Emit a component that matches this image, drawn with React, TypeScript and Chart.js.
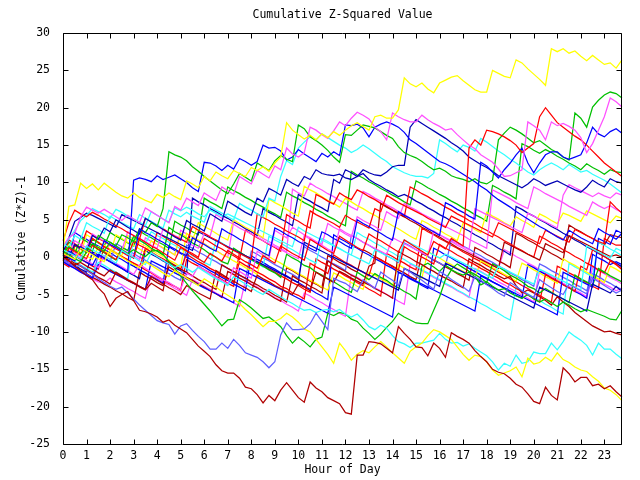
import React, { useEffect, useRef } from 'react';
import { Chart, registerables } from 'chart.js';

Chart.register(...registerables);

// x categories: quarter-hour steps 0 .. 23.75
const quarterHours = Array.from({ length: 96 }, (_, i) => i / 4);

const yellowTop = [
  1.0, 6.8, 7.0, 9.9, 9.2, 9.8, 9.0, 9.9,
  9.3, 8.7, 8.2, 7.9, 8.6, 8.0, 7.6, 7.3,
  8.4, 8.0, 8.6, 8.1, 7.7, 10.2, 9.8, 9.3,
  10.8, 10.2, 11.4, 10.9, 10.5, 11.6, 11.2, 10.8,
  12.0, 11.6, 12.1, 11.5, 12.6, 13.4, 18.0, 17.0,
  16.4, 15.8, 16.3, 15.7, 16.5, 16.0, 16.8, 16.3,
  17.0, 17.6, 18.0, 17.5, 17.0, 18.8, 19.0, 18.6,
  18.6, 19.7, 24.0, 23.2, 22.8, 23.3, 22.5, 22.0,
  23.3, 23.7, 24.1, 24.3, 23.6, 23.0, 22.4, 22.1,
  22.1, 25.0, 24.6, 24.2, 24.0, 26.4, 26.0, 25.2,
  24.5, 23.8, 23.0, 27.9, 27.5, 27.9, 27.3, 27.6,
  26.9, 26.3, 27.0, 26.4, 25.8, 26.0, 25.3, 26.4,
];
const darkRedLow = [
  0.3, -0.5, -1.2, -1.8, -2.5, -3.0, -4.1, -4.9,
  -6.6, -5.5, -5.0, -4.6, -5.8, -7.1, -7.3, -7.6,
  -8.0, -8.7, -8.4, -9.1, -9.6, -10.1, -11.0, -11.9,
  -12.6, -13.3, -14.4, -15.2, -15.5, -15.5, -16.2, -17.4,
  -17.6, -18.4, -19.5, -18.5, -19.2, -17.8, -16.8, -17.8,
  -18.8, -19.4, -16.7, -17.5, -18.0, -18.8, -19.2, -19.6,
  -20.8, -21.0, -13.1, -13.1, -11.3, -11.4, -11.6, -12.2,
  -12.8, -9.3, -10.2, -11.0, -12.0, -12.1, -13.2, -11.5,
  -12.2, -13.4, -10.1, -10.6, -11.0, -11.5, -12.5, -13.3,
  -14.0, -15.0, -15.4, -15.6, -16.2, -17.0, -17.4, -18.3,
  -19.3, -19.6, -17.4, -18.5, -19.1, -14.8, -15.6, -16.7,
  -16.1, -16.1, -17.2, -17.0, -17.6, -17.2, -18.0, -18.7,
];
const slateLow = [
  -0.3, -0.8, -1.3, -1.1, -1.8, -2.3, -2.9, -3.4,
  -3.9, -4.3, -4.0, -4.8, -5.6, -6.4, -7.1, -7.8,
  -8.5, -8.8, -9.0, -10.3, -9.2, -8.9, -9.8, -10.6,
  -11.3, -12.3, -12.3, -11.5, -12.2, -11.0, -11.8, -12.8,
  -13.1, -13.4, -14.0, -14.8, -14.0, -10.4, -8.8, -9.7,
  -9.7, -9.6, -8.9, -7.5, -8.6, -9.7, -2.8, -3.2,
  -3.5, -4.1, -4.6, -3.0, -3.6, -4.2, -2.0, -2.6,
  -3.1, -3.8, -1.5, -2.0, -2.6, -3.1, -3.7, -4.3,
  -1.9, -2.4, -3.0, -3.5, -4.0, -4.6, -2.6, -3.1,
  -3.7, -4.2, -4.8, -5.2, -3.4, -3.9, -4.5, -5.0,
  -5.4, -3.0, -3.6, -4.1, -4.6, -5.0, -3.6, -4.1,
  -4.5, -4.9, -2.8, -3.3, -3.8, -4.3, -4.8, -4.4,
];
const yellowLow = [
  0.5, 0.1, -0.3, 1.2, 0.8, 0.3, -0.2, -0.6,
  1.0, 0.5, 0.0, -0.5, -1.0, -1.4, -0.6, -1.1,
  -1.6, -2.1, -2.6, -1.8, -2.3, -2.8, -3.3, -3.8,
  -2.9, -3.4, -4.0, -4.6, -5.1, -5.6, -6.2, -7.0,
  -7.7, -8.5, -9.3, -8.6, -8.6, -8.2, -7.5, -8.0,
  -8.7, -9.6, -10.0, -11.0, -12.0, -13.0, -14.2, -11.5,
  -12.5, -13.8, -13.0, -12.5, -12.8, -12.0, -11.3, -12.0,
  -12.8, -13.5, -14.2, -12.6, -12.0, -11.5, -10.5, -9.7,
  -10.0, -10.5, -11.0, -12.0, -13.0, -13.8, -13.1, -13.3,
  -14.0, -15.1, -15.8, -15.5, -15.2, -14.7, -16.0, -13.5,
  -14.3, -14.1, -13.4, -13.9, -12.8, -13.7, -14.1, -14.7,
  -15.1, -15.3, -16.0, -16.6, -17.5, -17.8, -18.4, -19.2,
];
const cyanLow = [
  1.0, 0.6, 0.2, -0.2, 1.5, 1.0, 0.6, 0.2,
  -0.3, -0.8, 0.9, 0.4, 0.0, -0.5, -1.0, 0.6,
  0.1, -0.4, -0.9, -1.4, -1.0, -1.5, -2.0, -1.4,
  -1.9, -2.4, -2.9, -3.3, -3.8, -2.6, -3.1, -3.6,
  -4.1, -4.6, -5.0, -4.3, -4.8, -5.3, -5.8, -6.2,
  -6.7, -7.1, -7.0, -7.4, -7.1, -7.0, -7.3, -7.0,
  -7.6, -8.0, -7.6, -8.4, -9.3, -9.7, -9.1, -9.5,
  -10.5, -11.3, -11.6, -12.1, -11.5, -11.5, -11.3, -11.1,
  -10.2, -11.0, -11.5, -11.4, -11.9, -11.6, -12.2, -12.7,
  -13.2, -14.0, -15.1, -14.2, -14.6, -13.1, -14.2, -14.0,
  -12.7, -12.9, -12.9, -11.5, -12.4, -11.3, -10.0, -10.6,
  -11.1, -11.8, -13.1, -11.5, -12.3, -12.3, -13.0, -13.6,
];
const greenLow = [
  0.8, 0.3, -0.2, -0.6, 0.7, 1.8, 1.3, 0.8,
  2.0, 1.5, 1.0, 0.5, 1.0, 0.5, 0.1, 0.8,
  0.9, 0.4, -0.6, -1.5, -2.5, -3.5, -4.5, -5.4,
  -6.3, -7.2, -8.2, -9.2, -8.4, -8.3, -5.7, -6.2,
  -6.8, -7.5, -8.2, -8.0, -8.6, -9.3, -10.5, -11.5,
  -10.7, -11.3, -12.0, -11.0, -10.7, -7.5, -7.8, -7.4,
  -7.6, -8.3, -8.6, -9.5, -10.2, -11.0, -10.3, -9.4,
  -8.6, -7.5, -8.0, -8.4, -8.8, -8.9, -8.9, -7.1,
  -5.3, -3.0, -1.7, -2.1, -2.4, -2.0, -2.6, -3.7,
  -3.3, -3.9, -4.4, -4.2, -4.8, -5.2, -5.5, -5.0,
  -5.6, -6.0, -5.6, -6.1, -6.6, -6.0, -6.4, -6.9,
  -7.3, -7.0, -7.3, -7.6, -7.9, -8.3, -8.4, -7.1,
];
const magentaHigh = [
  1.5, 2.6, 3.2, 5.4, 6.7, 6.3, 5.9, 6.4,
  5.9, 5.4, 4.9, 5.6, 5.1, 4.6, 6.6, 6.1,
  5.6, 5.1, 4.6, 6.8, 6.3, 7.9, 7.4, 6.9,
  8.6, 8.1, 7.6, 9.4, 8.9, 8.4, 10.8, 10.3,
  9.8, 11.6, 11.1, 10.6, 12.2, 11.7, 14.6, 13.8,
  13.4, 14.0, 17.4, 17.0, 16.4, 15.9, 16.9, 18.1,
  17.6, 18.6, 19.4, 19.0, 18.5, 17.4, 16.8, 15.7,
  19.3, 18.8, 18.4, 18.1, 18.1, 19.0, 18.4, 17.9,
  17.5, 17.0, 17.2, 16.4, 15.7, 15.0, 14.5, 13.7,
  13.2, 12.7, 11.8, 10.8, 10.9, 11.3, 11.7, 18.1,
  17.6, 17.0, 15.7, 18.1, 17.6, 17.9, 17.5, 17.0,
  16.0, 14.0, 15.2, 17.0, 18.8, 21.3, 20.8, 20.1,
];
const redPeak = [
  -0.5, 1.2, 0.8, 0.3, -0.2, 1.6, 1.1, 0.7,
  0.2, -0.3, 0.9, 0.4, -0.1, 2.5, 2.0, 1.5,
  1.1, 0.6, 0.1, -0.4, 1.3, 0.8, 0.3, -0.2,
  -0.7, 0.5, 0.0, -0.5, 0.9, 0.4, -0.1, -0.6,
  -1.0, -1.5, 0.2, -0.3, -0.8, 1.5, 1.0, 0.5,
  0.1, -0.4, 2.4, 1.9, 1.4, 0.9, 0.5, 2.8,
  2.3, 1.8, 1.3, 0.9, 3.1, 2.6, 2.2, 1.7,
  1.2, 0.7, 2.3, 1.8, 1.3, 0.8, 0.3, 2.1,
  1.6, 1.1, 2.5, 2.0, 1.5, 14.6, 15.7, 15.0,
  17.0, 16.8, 16.5, 16.1, 15.6, 15.0, 14.0, 14.6,
  15.2, 18.8, 20.0, 19.0, 18.0, 17.4, 16.8, 16.2,
  15.7, 15.0, 14.2, 13.4, 12.6, 12.0, 11.4, 10.8,
];
const blueHigh = [
  0.4, -0.1, -0.5, 1.4, 0.9, 0.5, 0.0, 2.2,
  1.7, 1.3, 0.8, 0.4, -0.1, 3.8, 3.3, 2.9,
  2.4, 2.0, 1.5, 1.1, 0.6, 0.2, 2.6, 2.1,
  1.7, 1.2, 0.8, 3.8, 3.3, 2.9, 2.4, 2.0,
  1.5, 1.1, 0.6, 0.2, 3.9, 3.5, 3.0, 2.6,
  2.1, 1.7, 1.2, 0.8, 3.4, 3.0, 2.5, 2.1,
  1.6, 1.2, 5.0, 4.5, 4.1, 3.6, 3.2, 2.7,
  2.3, 6.1, 5.6, 5.2, 4.7, 4.3, 3.8, 3.4,
  2.9, 7.3, 6.9, 6.4, 6.0, 5.5, 5.1, 12.7,
  12.2, 11.4, 10.6, 11.7, 12.6, 13.7, 14.6, 12.6,
  11.3, 12.6, 13.7, 14.1, 14.1, 13.4, 13.1, 13.4,
  13.7, 15.3, 17.4, 16.5, 16.1, 16.8, 17.2, 16.6,
];
const greenHigh = [
  0.6, 1.4, 0.9, 0.5, 1.2, 0.8, 2.9, 2.4,
  2.0, 1.5, 3.0, 2.6, 2.1, 3.8, 3.3, 4.6,
  4.1, 6.5, 14.1, 13.7, 13.4, 12.9, 12.1, 11.5,
  10.8, 10.2, 9.6, 9.0, 8.5, 9.8, 11.2, 10.7,
  10.2, 12.6, 12.1, 11.6, 12.9, 13.6, 13.1, 12.8,
  17.7, 17.2, 16.1, 15.6, 15.0, 14.3, 13.4, 12.7,
  16.4, 16.3, 17.0, 17.7, 17.5, 17.3, 16.8, 16.3,
  15.9, 14.8, 14.0, 13.6, 13.3, 12.8, 12.2, 11.7,
  11.9, 11.5, 10.9, 10.6, 10.4, 10.1, 10.5, 10.0,
  9.8, 10.3, 15.7, 16.6, 17.4, 17.0, 16.5, 15.9,
  15.3, 15.6, 15.0, 14.4, 14.0, 13.4, 13.0, 19.3,
  18.6, 17.4, 20.1, 21.0, 21.7, 22.1, 21.9, 21.3,
];
const blueUpper = [
  -0.3, 0.8, 0.3, -0.2, -0.7, -1.1, 0.4, -0.1,
  -0.6, -1.0, -1.5, -2.0, 10.3, 10.6, 10.4, 10.1,
  10.9, 10.4, 10.7, 11.0, 10.5, 10.0, 9.3, 8.8,
  12.7, 12.6, 12.2, 11.6, 12.3, 11.8, 13.2, 12.8,
  12.3, 12.8, 15.0, 14.6, 14.7, 14.2, 13.0, 13.4,
  14.4, 13.8, 13.3, 12.8, 13.9, 13.4, 14.1, 13.6,
  17.7, 17.6, 17.8, 17.3, 16.1, 17.4, 17.8, 18.1,
  17.8, 17.4, 16.7, 15.7, 15.2, 14.6, 14.0, 13.4,
  12.8, 12.5, 12.1, 11.6, 11.1, 10.6, 10.1, 9.5,
  9.0, 8.3, 7.7, 7.2, 6.7, 6.1, 5.6, 5.1,
  4.6, 4.1, 3.7, 3.2, 2.7, 2.3, 3.6, 3.1,
  2.6, 2.2, 1.8, 3.8, 3.3, 2.9, 2.4, 3.2,
];
const navyUpper = [
  0.5, 0.0, 1.7, 1.2, 0.8, 2.9, 2.4, 3.9,
  3.4, 5.0, 4.5, 4.0, 3.6, 3.1, 5.2, 4.7,
  4.2, 3.7, 3.2, 2.7, 2.3, 4.9, 4.4, 4.0,
  3.5, 5.8, 5.3, 4.8, 7.5, 7.0, 6.5, 6.0,
  5.6, 7.9, 7.4, 9.2, 8.8, 8.3, 10.4, 9.9,
  9.5, 10.8, 10.4, 11.7, 11.2, 11.0, 10.9, 11.1,
  10.6, 10.4, 10.8, 11.7, 11.3, 11.0, 10.9, 11.4,
  12.1, 12.3, 12.3, 17.4, 18.4, 17.9, 17.4, 16.9,
  16.4, 15.9, 15.3, 14.8, 14.2, 13.4, 12.9, 12.4,
  12.0, 11.5, 10.9, 10.5, 10.1, 9.7, 9.3, 9.8,
  10.5, 10.1, 9.6, 9.9, 10.2, 9.8, 9.4, 9.0,
  8.7, 9.4, 10.3, 9.8, 9.4, 10.5, 10.1, 9.9,
];
const cyanUpper = [
  1.8, 1.3, 2.9, 2.4, 4.6, 4.1, 3.7, 3.2,
  5.5, 5.0, 4.6, 4.2, 3.8, 5.7, 5.2, 4.8,
  4.3, 3.9, 6.3, 5.8, 5.4, 6.0, 5.5, 5.1,
  4.7, 6.8, 6.3, 5.9, 5.4, 5.0, 7.2, 6.7,
  6.3, 5.8, 5.4, 7.9, 7.5, 10.8, 12.9, 12.4,
  14.6, 15.4, 16.1, 15.7, 16.5, 16.0, 15.5, 15.0,
  14.6, 14.0, 14.4, 15.0, 14.5, 13.9, 13.3, 12.8,
  12.1, 11.7, 11.3, 11.0, 10.8, 10.8, 10.6, 11.2,
  15.7, 15.2, 14.6, 14.1, 15.0, 14.7, 14.2, 15.9,
  15.4, 14.8, 14.2, 13.7, 13.1, 12.6, 12.0, 11.4,
  11.0, 11.7, 12.2, 12.6, 12.2, 11.7, 12.4, 11.9,
  11.4, 11.6, 11.1, 10.7, 10.3, 9.8, 9.2, 8.6,
];
const redMidA = [
  2.2, 4.6, 6.3, 5.8, 5.4, 6.0, 5.6, 5.1,
  4.7, 4.2, 3.8, 3.3, 2.9, 2.4, 5.2, 4.7,
  4.3, 3.8, 3.3, 2.8, 2.4, 2.0, 4.1, 3.6,
  3.2, 2.7, 2.3, 1.8, 1.3, 0.9, 0.5, 0.1,
  -0.3, 5.8, 5.3, 4.9, 4.4, 4.0, 3.5, 3.1,
  2.7, 2.2, 6.2, 5.7, 5.3, 4.9, 4.5, 4.0,
  5.6, 5.1, 4.7, 4.3, 3.9, 6.5, 6.1, 8.3,
  7.8, 7.3, 6.9, 6.5, 6.1, 5.7, 5.2, 4.8,
  4.4, 4.0, 5.5, 5.1, 4.7, 4.3, 3.9, 3.5,
  3.1, 2.7, 4.6, 4.2, 3.8, 3.4, 3.0, 2.6,
  2.2, 1.8, 3.6, 3.2, 2.8, 2.4, 2.0, 3.7,
  3.3, 2.9, 2.5, 2.1, 1.8, 7.4, 6.6, 5.9,
];
const cyanMidA = [
  1.2, 2.4, 3.6, 4.9, 5.6, 6.5, 6.1, 5.7,
  5.2, 6.4, 6.0, 5.5, 5.1, 4.7, 4.2, 6.1,
  5.6, 5.1, 4.7, 6.6, 6.2, 6.7, 6.3, 5.8,
  5.4, 6.3, 5.9, 5.5, 5.8, 5.4, 5.0, 4.6,
  4.2, 3.8, 3.4, 3.0, 2.6, 2.2, 1.8, 1.4,
  4.0, 3.5, 3.1, 2.7, 2.3, 1.9, 1.5, 1.1,
  0.7, 0.3, -0.1, -0.5, -0.9, 1.0, 0.6, 0.2,
  -0.2, -0.6, 2.3, 1.9, 1.5, 1.1, 0.7, 0.3,
  -0.1, 0.4, 0.0, -0.4, -0.8, -1.2, -1.6, -2.0,
  -2.4, -2.8, -1.2, -1.6, -2.0, -2.4, -2.8, -3.2,
  -3.6, -1.6, -2.0, -2.4, -2.8, -3.2, -3.6, -4.0,
  -4.4, 1.5, 1.1, 0.7, 0.3, -0.1, 1.2, 0.8,
];
const magentaMidA = [
  -0.3, -0.8, 0.6, 0.1, -0.4, -0.9, -1.4, 0.2,
  -0.3, -0.8, -1.3, -1.8, -2.3, -1.0, -1.5, -2.0,
  -2.5, -3.0, -3.4, -3.9, -4.3, -2.1, -2.6, -1.2,
  -1.7, -2.2, -2.7, -3.1, -3.6, -1.4, -1.9, -2.4,
  -2.8, 0.8, 0.3, -0.2, 3.6, 3.1, 2.6, 4.0,
  3.5, 3.0, 2.6, 2.1, 1.7, 4.5, 4.0, 3.6,
  3.1, 2.7, 5.4, 4.9, 4.5, 4.1, 3.6, 6.1,
  5.6, 5.2, 7.2, 6.7, 6.3, 5.8, 5.4, 5.0,
  4.6, 4.1, 3.7, 3.3, 2.9, 2.4, 2.0, 1.6,
  1.2, 9.0, 8.6, 8.2, 7.8, 7.3, 6.9, 6.5,
  9.4, 9.0, 8.5, 8.1, 7.7, 7.3, 6.8, 6.4,
  6.0, 5.6, 7.4, 6.9, 6.5, 6.9, 6.4, 6.0,
];
const magentaMidB = [
  0.9, 0.4, 2.2, 1.7, 1.3, 3.1, 2.6, 2.2,
  1.7, 1.3, 0.9, 3.4, 2.9, 2.5, 2.1, 1.6,
  1.2, 3.8, 3.3, 2.9, 2.5, 2.0, 1.6, 1.2,
  3.2, 2.8, 5.7, 5.2, 4.8, 4.4, 3.9, 3.5,
  3.1, 2.7, 2.2, 1.8, 1.4, 1.0, 0.6, 0.2,
  -0.2, 2.9, 2.4, 2.0, 1.6, 1.1, 0.7, 3.8,
  3.3, 2.9, 2.5, 2.0, 1.6, 1.2, 0.8, 0.4,
  2.6, 2.2, 1.8, 1.4, 1.0, 0.6, 0.2, 3.5,
  3.0, 2.6, 2.2, 1.8, 1.4, 1.0, 6.5, 6.1,
  5.7, 5.3, 4.9, 4.5, 4.1, 3.7, 3.3, 5.9,
  5.5, 5.1, 4.7, 4.3, 3.9, 8.3, 9.7, 9.3,
  8.9, 8.5, 8.1, 8.6, 8.2, 7.9, 8.6, 8.3,
];
const darkRedMidA = [
  0.2, -0.3, -0.8, -1.2, -1.7, -2.2, -2.7, -3.1,
  -3.6, -2.0, -2.5, -3.0, -3.4, -3.9, -4.3, -2.6,
  -3.1, -3.6, -4.1, -4.5, -5.0, -3.8, -4.3, -4.8,
  -5.2, -5.6, -1.8, -2.3, -2.8, -3.2, -3.7, -4.1,
  -4.6, -2.4, -2.9, -3.3, -3.8, -4.2, -4.6, -5.0,
  -3.6, -4.0, -4.5, -2.0, -2.5, -2.9, -3.4, -1.9,
  -2.3, -2.8, -3.2, -3.6, -1.2, -0.8, 7.2, 6.7,
  6.3, 5.8, 5.4, 4.9, 4.5, 4.0, 3.6, 3.1,
  2.7, 2.2, 1.8, 1.3, 0.9, 0.5, 0.1, -0.3,
  -0.7, -1.1, -1.5, 2.0, 1.6, 1.2, 0.8, 0.4,
  0.0, -0.4, 1.8, 1.4, 1.0, 0.6, 2.9, 2.5,
  2.1, 1.7, 1.3, 0.9, 0.5, 0.1, 0.3, 0.0,
];
const darkRedMidB = [
  0.0, -0.5, -1.0, -0.7, -1.2, -1.6, -2.1, -2.5,
  -1.7, -2.2, -2.6, -3.1, -3.5, -4.0, -4.4, -3.5,
  -4.0, -4.5, -0.6, -1.1, -1.6, -2.0, -2.5, -3.0,
  -3.4, -3.9, -4.3, -1.0, -1.5, -1.9, -2.4, -2.8,
  -3.3, -3.7, -4.2, -4.6, -5.1, -5.5, -6.0, -2.5,
  -3.0, -3.4, -3.9, -4.3, -4.8, -0.5, -1.0, -1.5,
  -1.9, -2.4, -2.8, -3.3, -3.7, -4.2, -4.6, -5.0,
  -5.5, 0.8, 0.3, -0.1, -0.6, -1.0, -1.5, -1.9,
  -2.4, -2.8, -3.2, -3.7, -4.1, -0.2, -0.7, -1.1,
  -1.6, -2.0, -2.5, -2.9, -2.6, -3.8, -4.8, -4.4,
  -4.8, -5.3, -5.8, -6.4, -5.3, -6.0, -6.6, -7.4,
  -8.0, -8.6, -9.2, -9.6, -10.0, -9.9, -10.2, -10.4,
];
const navyMidA = [
  0.7, 2.6, 4.8, 5.3, 5.9, 5.6, 5.2, 4.8,
  4.4, 4.0, 5.7, 5.3, 4.9, 4.5, 4.1, 3.7,
  3.3, 2.9, 2.5, 2.1, 1.7, 1.3, 0.9, 3.4,
  3.0, 2.6, 2.2, 1.8, 1.4, 1.0, 0.6, 0.2,
  -0.2, -0.6, -1.0, -1.4, -1.8, -2.2, -2.6, -3.0,
  -3.4, 2.0, 1.6, 1.2, 0.8, 0.4, 0.0, -0.4,
  -0.8, -1.2, -1.6, -2.0, -2.4, -2.8, -3.2, -3.6,
  -4.0, -4.4, -1.5, -1.9, -2.3, -2.7, -3.1, -3.5,
  -3.9, -0.8, -1.2, -1.6, -2.0, -2.4, -2.8, -3.2,
  -3.6, -4.0, -4.4, -4.8, -5.2, -5.6, -6.0, -6.4,
  -6.8, -4.0, -4.4, -4.8, -5.2, -5.6, -6.0, -6.4,
  -6.8, -7.2, -3.6, -4.0, -4.4, -4.8, -3.9, -4.6,
];
const blueMidA = [
  -0.6, -1.1, -1.5, -2.0, -2.4, -2.8, -1.0, -1.4,
  -1.9, -2.3, -2.7, -3.1, -3.5, -3.9, -4.3, -0.5,
  -0.9, -1.3, -1.7, -2.1, -2.5, -2.9, -3.3, -3.7,
  -4.1, -4.5, -4.9, -5.3, -5.7, -6.1, -1.5, -1.9,
  -2.3, -2.7, -3.1, -3.5, -3.9, -4.3, -4.7, -5.1,
  -5.5, -5.9, -6.3, -6.7, -7.1, -7.5, -4.0, -4.4,
  -4.8, -5.2, -5.6, -6.0, -6.4, -6.8, -7.2, -7.6,
  -8.0, -2.0, -2.4, -2.8, -3.2, -3.6, -4.0, -4.4,
  -4.8, -5.2, -5.6, -6.0, -6.4, -6.8, -7.2, -2.5,
  -2.9, -3.3, -3.7, -4.1, -4.5, -4.9, -5.3, -5.7,
  -6.1, -6.5, -6.9, -7.3, -7.7, -2.0, -2.4, -2.8,
  -3.2, -3.6, -4.0, 2.5, 2.1, 1.7, 3.6, 3.2,
];
const greenMidA = [
  1.3, 0.8, 0.4, 2.6, 2.1, 1.6, 1.0, 0.6,
  0.1, -0.4, 1.3, 0.9, 2.8, 2.3, 1.8, 1.2,
  0.8, 0.3, 4.0, 3.4, 3.0, 2.5, 1.9, 1.5,
  1.0, 0.4, 0.0, -0.6, -0.9, 1.2, 0.7, 0.2,
  -0.3, -0.8, -1.2, -1.7, -2.1, -2.7, 0.4, -0.1,
  -0.5, -1.1, -1.4, -2.0, -2.4, -2.9, -3.3, -3.8,
  -4.3, -4.7, -2.0, -2.5, -3.0, -2.2, -2.7, -3.1,
  -3.7, -4.1, -4.6, -5.0, -5.6, -1.2, -0.8, -1.3,
  -1.9, -1.1, -1.6, -0.9, -1.4, -1.9, -2.3, -2.8,
  -3.4, -0.9, -1.3, -1.8, -2.4, -2.8, -3.3, -3.9,
  -4.2, -4.8, -4.2, -4.7, -5.2, -5.6, -6.1, -2.4,
  -2.9, -3.3, -3.8, -1.5, -2.0, -2.5, -2.9, -3.3,
];
const redMidB = [
  -0.8, -1.3, 1.6, 1.1, 0.6, 2.5, 2.0, 1.4,
  1.0, 0.5, 0.1, -0.4, -0.8, -1.4, 1.2, 0.7,
  0.2, -0.2, -0.7, -1.2, -1.6, 0.4, -0.1, -0.6,
  -1.0, -1.5, -1.9, -2.5, -2.9, -3.4, -0.6, -1.1,
  -1.5, -2.0, -2.4, -2.9, -3.3, -3.9, -4.2, -4.8,
  -5.1, -5.6, -0.8, -1.3, -1.7, -2.2, 0.3, -0.2,
  -0.7, -1.1, -1.6, -2.0, -2.5, 0.1, -0.4, -0.8,
  -1.3, -1.7, 1.4, 0.9, 0.5, 0.0, -0.4, -0.9,
  1.7, 1.2, 0.8, 0.3, -0.1, -0.6, -1.0, -1.5,
  -1.9, -2.4, -2.8, -3.3, -3.7, -4.2, -4.6, -5.1,
  -5.5, -6.0, -2.3, -2.8, -3.2, -3.7, -4.1, -4.6,
  -1.2, -1.7, 1.0, 0.6, 0.1, -0.4, -0.9, -1.7,
];
const redMidC = [
  0.4, 2.3, 1.8, 1.3, 3.5, 3.0, 2.5, 2.1,
  1.6, 1.1, 0.7, 0.2, 2.1, 1.6, 1.2, 0.7,
  3.3, 2.8, 2.3, 1.9, 1.4, 0.9, 0.5, 0.0,
  2.5, 2.0, 1.5, 1.1, 0.6, 0.2, -0.3, 3.6,
  3.1, 2.6, 2.2, 1.7, 1.3, 0.8, 5.7, 5.2,
  4.8, 4.3, 3.9, 8.4, 8.0, 7.5, 7.1, 8.6,
  8.1, 7.7, 9.0, 8.6, 8.1, 7.7, 7.2, 6.8,
  6.3, 5.9, 5.4, 9.4, 9.0, 8.5, 8.1, 7.6,
  7.2, 6.7, 6.3, 5.8, 5.4, 4.9, 4.5, 4.0,
  3.6, 3.1, 2.7, 2.2, 1.8, 1.3, 0.9, 0.4,
  0.0, 2.8, 2.4, 1.9, 1.5, 1.0, 0.6, 0.1,
  -0.3, -0.8, -1.2, -1.7, -2.1, -0.5, -1.0, -1.6,
];
const yellowMidA = [
  -0.2, 1.6, 1.1, 0.6, 0.2, -0.3, 1.4, 0.9,
  0.4, 3.0, 2.5, 2.0, 1.6, 1.1, 0.6, 2.2,
  1.7, 1.3, 0.8, 0.3, 3.2, 2.7, 2.2, 4.6,
  4.1, 3.7, 3.2, 2.7, 2.3, 5.0, 4.5, 4.0,
  3.6, 3.1, 2.6, 7.8, 7.3, 6.9, 6.4, 5.9,
  5.5, 9.5, 9.0, 8.6, 8.1, 7.6, 7.2, 6.7,
  7.9, 7.4, 6.9, 6.5, 6.0, 5.6, 5.1, 4.7,
  4.2, 3.8, 3.3, 2.8, 2.4, 4.9, 4.5, 4.0,
  3.6, 3.1, 2.7, 2.2, 4.6, 4.2, 3.7, 3.3,
  6.0, 5.5, 5.1, 4.6, 4.2, 5.4, 4.9, 4.5,
  4.0, 5.8, 5.4, 4.9, 4.5, 5.9, 5.6, 5.2,
  4.8, 6.2, 5.8, 5.4, 5.0, 4.6, 5.5, 5.2,
];
const yellowMidB = [
  1.9, 1.4, 0.9, 0.4, 3.0, 2.5, 2.0, 1.6,
  1.1, 0.6, 0.2, 2.9, 2.4, 1.9, 1.5, 1.0,
  0.5, 0.1, -0.4, -0.8, -1.3, 3.2, 2.7, 2.3,
  1.8, 1.3, 0.9, 0.4, 0.0, -0.5, -0.9, -1.4,
  -1.8, -2.3, 0.6, 0.1, -0.4, -0.8, -1.3, -1.7,
  -2.2, -2.6, -3.1, -3.5, -4.0, -4.4, -2.1, -2.5,
  -3.0, -3.4, -3.9, -4.3, -2.0, -2.4, -2.9, -3.3,
  -3.8, -1.0, -1.5, -1.9, -2.4, -2.8, 0.8, 0.3,
  -0.1, -0.6, -1.0, -1.5, -1.9, -2.4, -2.8, -0.5,
  -0.9, -1.4, -1.8, -2.3, -2.7, -3.2, -0.8, -1.2,
  -1.7, -2.1, -2.6, -3.0, -3.5, -0.2, -0.7, -1.1,
  -1.6, -2.0, -2.5, -2.9, -3.4, -1.2, -1.6, -2.1,
];
const cyanMidB = [
  0.3, -0.2, -0.6, -1.1, -1.5, -2.0, -0.7, -1.1,
  -1.6, -2.0, -2.5, -2.9, 2.7, 2.2, 1.8, 3.4,
  2.9, 2.5, 2.0, 1.6, 1.1, 0.7, 0.2, -0.2,
  -0.7, -1.1, 2.3, 1.9, 1.4, 1.0, 0.5, 0.1,
  -0.4, -0.8, -1.3, 2.8, 2.3, 1.9, 1.4, 1.0,
  0.5, 0.1, -0.4, -0.8, 2.5, 2.1, 1.6, 1.2,
  0.7, 0.3, 3.3, 2.8, 2.4, 1.9, 1.5, 1.0,
  0.6, 0.1, -0.3, -0.8, -1.2, -1.7, -2.1, -2.6,
  -3.0, -3.5, -3.9, -4.4, -4.8, -5.3, -5.7, -6.2,
  -6.6, -7.1, -7.5, -8.0, -8.4, -4.0, -4.5, -4.9,
  -5.4, -5.8, -6.3, -6.7, -7.2, -7.6, -0.8, -1.3,
  -1.7, -2.2, -2.6, 2.0, 1.6, 1.1, 0.7, 0.2,
];
const slateMid = [
  -0.5, -0.9, -1.4, -1.8, -2.3, -2.7, 0.3, -0.1,
  -0.6, 1.8, 1.4, 0.9, 0.5, 0.0, -0.4, -0.9,
  -1.3, -1.8, -2.2, -2.7, -3.1, 1.6, 1.2, 0.7,
  0.3, -0.2, -0.6, -1.1, -1.5, -2.0, -2.4, -2.9,
  0.8, 0.4, -0.1, -0.5, -1.0, -1.4, -1.9, -2.3,
  -2.8, 1.4, 0.9, 0.5, 0.0, -0.4, -0.9, -1.3,
  -1.8, 2.9, 2.5, 2.0, 1.6, 1.1, 0.7, 0.2,
  -0.2, -0.7, 1.9, 1.5, 1.0, 0.6, 0.1, -0.3,
  -0.8, -1.2, 2.4, 2.0, 1.5, 1.1, 0.6, 0.2,
  -0.3, -0.7, -1.2, -1.6, -2.1, -2.5, -3.0, -3.4,
  -3.9, -0.9, -1.3, -1.8, -2.2, -2.7, -3.1, -3.6,
  -4.0, -4.5, -2.2, -2.6, -3.1, -3.5, -4.0, -4.3,
];
const blueMidB = [
  0.1, -0.4, 3.3, 2.8, 2.4, 1.9, 1.5, 1.0,
  0.6, 0.1, -0.3, -0.8, -1.2, -1.7, -2.1, -2.6,
  -3.0, -3.5, 1.4, 0.9, 0.5, 0.0, -0.4, -0.9,
  -1.3, -1.8, -2.2, -2.7, -3.1, -3.6, -4.0, -4.5,
  0.2, -0.3, -0.7, -1.2, -1.6, -2.1, -2.5, -3.0,
  -3.4, -3.9, -4.3, -4.8, -5.2, -5.7, 3.0, 2.5,
  2.1, 1.6, 1.2, 0.7, 0.3, -0.2, -0.6, -1.1,
  -1.5, -2.0, -2.4, -2.9, -3.3, -3.8, -4.2, 1.2,
  0.8, 0.3, -0.1, -0.6, -1.0, -1.5, -1.9, -2.4,
  -2.8, -3.3, -3.7, -4.2, -4.6, -5.1, -5.5, -1.0,
  -1.4, -1.9, -2.3, -2.8, -3.2, -3.7, -4.1, -4.6,
  -5.0, -5.5, 0.4, -0.1, -0.5, -1.0, -0.6, -1.0,
];
const navyMidB = [
  -0.2, -0.7, -1.1, -1.6, -2.0, 0.7, 0.3, -0.2,
  -0.6, -1.1, -1.5, -2.0, -2.4, -2.9, 0.9, 0.4,
  0.0, -0.5, -0.9, -1.4, -1.8, -2.3, 7.9, 7.4,
  7.0, 6.5, 6.1, 5.6, 5.2, 4.7, 4.3, 3.8,
  3.4, 2.9, 6.5, 6.0, 5.6, 5.1, 4.7, 4.2,
  8.4, 7.9, 7.5, 7.0, 6.6, 6.1, 10.4, 9.9,
  11.7, 11.3, 10.8, 11.2, 10.4, 9.9, 9.5, 9.0,
  8.6, 8.1, 8.4, 8.0, 7.5, 7.1, 6.6, 6.2,
  5.7, 5.3, 4.8, 4.4, 3.9, 3.5, 3.0, 2.6,
  2.1, 1.7, 1.2, 0.8, 0.3, 6.8, 6.4, 5.9,
  5.5, 5.0, 4.6, 4.1, 3.7, 3.2, 2.8, 2.3,
  1.9, 1.4, 1.0, 0.5, 0.1, -0.4, -0.8, -1.3,
];
const redMidD = [
  1.1, 0.6, 0.2, -0.3, -0.7, -1.2, -1.6, 1.5,
  1.0, 0.6, 0.1, -0.3, -0.8, -1.2, -1.7, -2.1,
  -2.6, -3.0, -3.5, -3.9, -4.4, -0.3, -0.8, -1.2,
  -1.7, -2.1, -2.6, -3.0, -3.5, -3.9, 0.7, 0.2,
  -0.2, -0.7, -1.1, -1.6, -2.0, -2.5, -2.9, -3.4,
  -3.8, -4.3, -4.7, -0.2, -0.7, -1.1, -1.6, -2.0,
  -2.5, -2.9, -3.4, -3.8, -4.3, -4.7, -5.2, 0.5,
  0.1, -0.4, -0.8, -1.3, -1.7, 3.9, 3.4, 3.0,
  2.5, 2.1, 1.6, 1.2, 0.7, 0.3, -0.2, -0.6,
  -1.1, -1.5, -2.0, -2.4, -2.9, -3.3, -3.8, -4.2,
  -4.7, -5.1, -5.6, -6.0, -1.2, -1.6, -2.1, -2.5,
  -3.0, -3.4, -3.9, -4.3, 2.5, 2.0, 1.6, 1.6,
];
const darkRedMidC = [
  -0.4, -0.9, -1.3, -1.8, -2.2, -2.7, -3.1, -3.6,
  -4.0, -4.5, -4.9, -5.4, -5.8, -2.0, -2.5, -2.9,
  -3.4, -3.8, -1.3, -1.8, -2.2, -2.7, -3.1, -3.6,
  -4.0, -4.5, -4.9, -5.4, -1.9, -2.3, -2.8, -3.2,
  -3.7, -4.1, -4.6, -5.0, -5.5, -5.9, -1.4, -1.8,
  -2.3, -2.7, -3.2, -3.6, -4.1, 0.2, -0.2, -0.7,
  -1.1, -1.6, -2.0, 1.0, 0.6, 0.1, -0.3, -0.8,
  -1.2, -1.7, -2.1, -2.6, -3.0, 0.5, 0.1, -0.4,
  -0.8, -1.3, -1.7, -2.2, -2.6, -3.1, 1.3, 0.9,
  0.4, 0.0, -0.5, -0.9, -1.4, 3.2, 2.8, 2.3,
  1.9, 1.4, 1.0, 0.5, 0.1, -0.4, 4.3, 3.8,
  3.4, 2.9, 2.5, 2.0, 1.6, 3.0, 2.8, 2.6,
];
const greenMidB = [
  0.2, 2.0, 1.5, 1.1, 0.6, 2.4, 1.9, 1.5,
  3.3, 2.8, 2.4, 1.9, 1.5, 3.5, 3.0, 2.6,
  2.1, 1.7, 1.2, 4.8, 4.3, 3.9, 3.4, 3.0,
  7.9, 7.4, 7.0, 6.5, 9.4, 8.9, 8.5, 8.0,
  7.6, 7.1, 6.7, 6.2, 5.8, 5.3, 8.7, 8.2,
  7.8, 7.3, 6.9, 6.4, 6.0, 5.5, 5.1, 4.6,
  4.2, 11.5, 11.0, 10.6, 10.1, 9.7, 9.2, 8.8,
  8.3, 7.9, 7.4, 7.0, 10.2, 9.8, 9.3, 8.9,
  8.4, 8.0, 7.5, 7.1, 6.6, 6.2, 5.7, 5.3,
  4.8, 9.6, 9.2, 8.7, 8.3, 7.8, 15.2, 14.8,
  14.3, 13.9, 14.4, 14.0, 13.5, 13.1, 12.6, 12.2,
  11.7, 12.5, 12.0, 11.6, 11.1, 11.7, 11.4, 11.3,
];
const magentaMidC = [
  -0.6, -1.1, -1.5, -2.0, -2.4, -2.9, -3.3, -3.5,
  -2.8, -3.3, -3.7, -4.2, -4.6, -5.1, -5.5, -2.4,
  -2.8, -3.3, -3.7, -4.2, -4.6, -5.1, -3.0, -3.4,
  -3.9, -4.3, -4.8, -5.2, -5.7, -6.1, -6.6, -3.1,
  -3.6, -4.0, -4.5, -4.9, -5.4, -5.8, -6.3, -6.7,
  -7.2, -4.8, -5.2, -5.7, -6.1, -6.6, -7.0, -7.5,
  -7.9, -2.3, -2.7, -3.2, -3.6, -4.1, -4.5, -5.0,
  -5.4, -5.9, -6.3, -0.9, -1.3, -1.8, -2.2, -2.7,
  -3.1, -3.6, -4.0, -4.5, -4.9, -5.4, -1.5, -1.9,
  -2.4, -2.8, -3.3, -3.7, -4.2, -4.6, -5.1, -5.5,
  -6.0, -1.8, -2.2, -2.7, -3.1, -3.6, -4.0, -4.5,
  -4.9, -5.4, -2.7, -3.1, -3.6, -4.0, -4.5, -4.1,
];
const magentaMidD = [
  0.5, 0.1, -0.4, 1.5, 1.0, 0.6, 0.1, -0.3,
  2.0, 1.5, 1.1, 0.6, 0.2, -0.3, 2.6, 2.1,
  1.7, 1.2, 0.8, 0.3, 3.6, 3.1, 2.7, 2.2,
  1.8, 1.3, 0.9, 0.4, 0.0, 4.8, 4.3, 3.9,
  3.4, 3.0, 2.5, 2.1, 1.6, 1.2, 0.7, 9.1,
  8.6, 8.2, 9.9, 9.4, 9.0, 8.5, 8.1, 7.6,
  7.2, 6.7, 6.3, 8.8, 8.4, 7.9, 7.5, 7.0,
  6.6, 6.1, 5.7, 5.2, 4.8, 4.3, 3.9, 3.4,
  3.0, 2.5, 2.1, 1.6, 1.2, 0.7, 0.3, -0.2,
  -0.6, -1.1, -1.5, 1.0, 0.6, 0.1, -0.3, -0.8,
  -1.2, -1.7, -2.1, -2.6, -3.0, -3.5, -3.9, -4.4,
  -4.8, -5.3, -1.3, -1.8, -2.2, -2.7, -3.1, -3.6,
];

const RED = '#ff0000';
const GREEN = '#00c000';
const BLUE = '#0000ff';
const NAVY = '#0000b4';
const MAGENTA = '#ff50ff';
const CYAN = '#33ffff';
const YELLOW = '#ffff00';
const DARKRED = '#b00000';
const SLATE = '#6060ff';

const seriesList: [number[], string][] = [
  [yellowTop, YELLOW],
  [darkRedLow, DARKRED],
  [slateLow, SLATE],
  [yellowLow, YELLOW],
  [cyanLow, CYAN],
  [greenLow, GREEN],
  [magentaHigh, MAGENTA],
  [redPeak, RED],
  [blueHigh, BLUE],
  [greenHigh, GREEN],
  [blueUpper, BLUE],
  [navyUpper, NAVY],
  [cyanUpper, CYAN],
  [redMidA, RED],
  [cyanMidA, CYAN],
  [magentaMidA, MAGENTA],
  [magentaMidB, MAGENTA],
  [darkRedMidA, DARKRED],
  [darkRedMidB, DARKRED],
  [navyMidA, NAVY],
  [blueMidA, BLUE],
  [greenMidA, GREEN],
  [redMidB, RED],
  [redMidC, RED],
  [yellowMidA, YELLOW],
  [yellowMidB, YELLOW],
  [cyanMidB, CYAN],
  [slateMid, SLATE],
  [blueMidB, BLUE],
  [navyMidB, NAVY],
  [redMidD, RED],
  [darkRedMidC, DARKRED],
  [greenMidB, GREEN],
  [magentaMidC, MAGENTA],
  [magentaMidD, MAGENTA],
];

const FONT = { family: '"DejaVu Sans Mono", monospace', size: 11.5, weight: 'normal' as const };

const framePlugin = {
  id: 'gnuFrame',
  afterDraw(chart: any) {
    const { ctx, chartArea } = chart;
    const { left, right, top, bottom } = chartArea;
    const xs = chart.scales.x;
    const ys = chart.scales.y;
    ctx.save();
    ctx.strokeStyle = '#000';
    ctx.lineWidth = 1;
    const L = Math.round(left) + 0.5;
    const R = Math.round(right) - 0.5;
    const T = Math.round(top) + 0.5;
    const B = Math.round(bottom) + 0.5;
    ctx.beginPath();
    ctx.rect(L, T, R - L, B - T);
    const tl = 5;
    for (let i = 0; i < quarterHours.length; i += 4) {
      const px = Math.round(xs.getPixelForValue(i)) + 0.5;
      ctx.moveTo(px, B);
      ctx.lineTo(px, B - tl);
      ctx.moveTo(px, T);
      ctx.lineTo(px, T + tl);
    }
    ys.ticks.forEach((t: any) => {
      const py = Math.round(ys.getPixelForValue(t.value)) + 0.5;
      ctx.moveTo(L, py);
      ctx.lineTo(L + tl, py);
      ctx.moveTo(R, py);
      ctx.lineTo(R - tl, py);
    });
    ctx.stroke();
    ctx.restore();
  },
};

export default function App() {
  const canvasRef = useRef<HTMLCanvasElement | null>(null);

  useEffect(() => {
    if (!canvasRef.current) return;
    const chart = new Chart(canvasRef.current, {
      type: 'line',
      data: {
        labels: quarterHours,
        datasets: seriesList.map(([vals, color], i) => ({
          label: 'series ' + (i + 1),
          data: vals,
          borderColor: color,
          backgroundColor: color,
          borderWidth: 1.25,
          pointRadius: 0,
          tension: 0,
          fill: false,
        })),
      },
      options: {
        animation: false,
        responsive: false,
        events: [],
        layout: { padding: { left: 0, right: 18, top: 0, bottom: 0 } },
        plugins: {
          legend: { display: false },
          tooltip: { enabled: false },
          title: {
            display: true,
            text: 'Cumulative Z-Squared Value',
            color: '#000',
            font: FONT,
            fullSize: false,
            padding: { top: 8.6, bottom: 10.6 },
          },
        },
        scales: {
          x: {
            type: 'category',
            offset: false,
            grid: { display: false, drawTicks: false },
            border: { display: false },
            ticks: {
              autoSkip: false,
              maxRotation: 0,
              minRotation: 0,
              padding: 4.8,
              color: '#000',
              font: FONT,
              callback: (_v: any, idx: number) => (idx % 4 === 0 ? String(idx / 4) : ''),
            },
            title: {
              display: true,
              text: 'Hour of Day',
              color: '#000',
              font: FONT,
              padding: { top: 0, bottom: 2.6 },
            },
            afterFit: (s: any) => {
              s.height = 36;
            },
          },
          y: {
            type: 'linear',
            min: -25,
            max: 30,
            grid: { display: false, drawTicks: false },
            border: { display: false },
            ticks: { stepSize: 5, padding: 13, color: '#000', font: FONT },
            title: {
              display: true,
              text: 'Cumulative (Z*Z)-1',
              color: '#000',
              font: FONT,
              padding: { top: 15.1, bottom: 0 },
            },
            afterFit: (s: any) => {
              s.width = 63;
            },
          },
        },
      },
      plugins: [framePlugin],
    } as any);
    return () => chart.destroy();
  }, []);

  return (
    <div style={{ position: 'absolute', left: 0, top: 0, width: 640, height: 480, background: '#fff' }}>
      <canvas ref={canvasRef} width={640} height={480} style={{ display: 'block' }} />
    </div>
  );
}
